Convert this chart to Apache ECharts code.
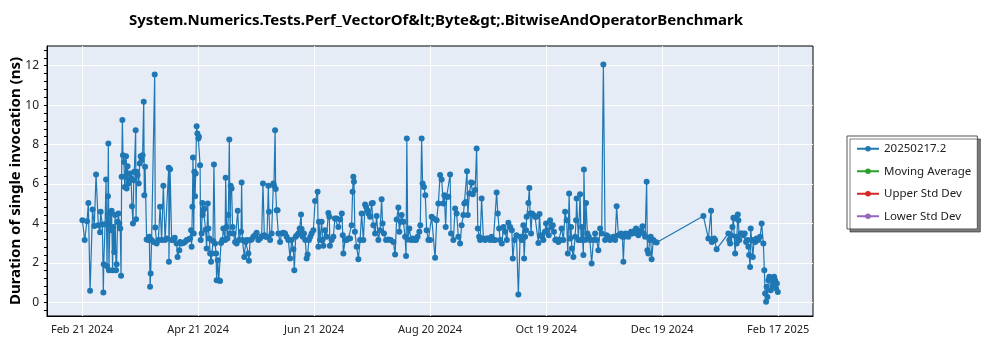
<!DOCTYPE html>
<html><head><meta charset="utf-8">
<script src="https://cdn.jsdelivr.net/npm/echarts@6/dist/echarts.min.js"></script>
<style>html,body{margin:0;padding:0;background:#fff}#c{width:1000px;height:350px}</style>
</head><body><div id="c"></div>
<script>
// x values are days since Feb 21 2024
const chartTitle = 'System.Numerics.Tests.Perf_VectorOf&lt;Byte&gt;.BitwiseAndOperatorBenchmark';
const yName = 'Duration of single invocation (ns)';
const tickDays = [0, 60.333, 120.667, 181, 241.333, 301.667, 362];
const tickLabels = ['Feb 21 2024','Apr 21 2024','Jun 21 2024','Aug 20 2024','Oct 19 2024','Dec 19 2024','Feb 17 2025'];
const yTicks = [0, 2, 4, 6, 8, 10, 12];
const seriesNames = ['20250217.2','Moving Average','Upper Std Dev','Lower Std Dev'];
const seriesColors = ['#1f77b4','#2ca02c','#d62728','#9467bd'];

const runsFebMar = [[0.2,4.16],[1.4,3.15],[2.6,4.11],[3.3,5.04],[4.2,0.58],[5.5,4.70],[6.4,3.87],[7.3,6.48],[8.5,3.91],[9.4,3.55],[9.7,4.59],[10.6,3.94],[11.1,0.49],[11.3,1.93],[12.0,3.96],[12.5,6.23],[13.0,1.83],[13.5,5.38],[13.7,8.05],[14.0,1.62],[14.6,4.50],[15.1,3.65],[15.4,4.64],[15.9,1.62],[16.3,3.82],[16.8,2.55],[17.2,4.42],[17.7,1.62],[18.0,1.93],[18.5,4.08],[18.9,4.50],[19.4,3.99],[19.9,3.74],[20.3,1.34],[20.6,6.36],[21.0,9.24],[21.3,7.46],[21.8,7.12],[22.2,5.85],[22.5,6.36],[22.9,7.41],[23.2,5.77],[23.7,6.90],[24.1,6.02],[24.6,6.19],[25.0,6.53],[25.5,6.28],[26.0,4.87],[26.5,3.99],[26.9,6.19],[27.2,6.62],[27.9,8.73],[28.1,4.21],[28.4,6.62],[28.9,6.45],[29.5,6.02],[30.0,7.04],[30.5,7.41],[31.0,7.21],[31.5,7.46],[32.1,10.17],[32.4,5.43],[32.8,6.87],[33.6,3.18]];
const runsAprMay = [[34.5,3.15],[35.0,3.32],[35.4,0.78],[35.7,1.46],[36.2,3.15],[37.1,3.06],[37.8,11.56],[38.1,3.79],[38.8,2.98],[39.7,3.15],[40.6,4.84],[41.4,3.15],[42.3,5.91],[43.2,3.15],[44.0,3.23],[45.1,6.82],[45.2,2.05],[45.8,6.75],[46.6,3.15],[47.5,3.15],[48.2,3.27],[49.2,2.98],[49.7,2.30],[50.6,2.64],[51.0,3.06],[51.8,2.98],[52.7,3.01],[53.5,3.06],[54.4,3.15],[55.3,3.18],[56.2,3.23],[56.7,3.65],[57.0,2.81],[57.4,4.84],[57.7,7.34],[58.1,3.49],[58.4,6.62],[58.8,5.38],[59.1,6.53],[59.6,8.93],[60.0,8.56],[60.5,8.31],[60.8,8.39],[61.4,6.95],[61.7,3.15],[62.2,3.49],[62.6,5.04],[62.8,4.42],[63.1,4.67],[63.6,4.75],[64.3,3.69],[64.8,2.72],[65.4,5.01],[65.7,3.74],[66.2,3.23],[66.6,2.47],[67.1,2.05],[67.6,2.47],[68.1,3.10],[68.6,6.99],[69.2,2.98],[69.7,2.47],[70.0,1.12],[70.6,2.13],[71.1,1.12],[71.8,1.08],[72.3,3.01],[73.0,3.15],[73.5,3.74],[74.4,3.15],[74.7,6.31],[75.2,3.82],[75.6,3.23],[76.1,4.42],[76.6,8.26],[77.0,3.49],[77.3,5.91],[77.8,5.77],[78.3,3.82],[78.7,3.49],[79.6,3.06],[80.4,2.98]];
const runsMayJul = [[81.0,4.64],[81.6,3.15],[82.7,3.57],[83.0,6.07],[83.4,3.15],[84.4,2.30],[85.1,3.06],[85.6,3.15],[86.5,2.47],[86.8,2.10],[87.4,3.15],[88.2,3.18],[89.1,3.32],[90.0,3.40],[90.8,3.52],[91.7,3.15],[92.6,3.23],[93.4,3.35],[94.1,6.02],[94.8,3.40],[95.5,3.32],[96.2,3.32],[96.9,5.91],[97.2,4.59],[97.8,3.15],[98.6,3.49],[99.5,6.02],[99.8,5.91],[100.4,8.73],[100.7,5.74],[101.2,4.67],[101.7,4.67],[102.1,3.49],[103.0,3.06],[103.8,3.49],[104.7,3.52],[105.6,3.49],[106.4,3.32],[107.3,3.15],[108.2,2.22],[109.0,3.15],[109.9,2.69],[110.4,1.62],[111.1,3.32],[111.8,3.40],[112.5,3.49],[113.2,3.74],[113.9,4.45],[114.2,3.71],[114.8,3.32],[115.4,3.49],[116.1,3.15],[116.8,2.22],[117.3,2.42],[118.0,3.15],[118.7,3.32],[119.4,3.49],[120.3,3.65],[121.2,5.13],[122.5,5.60],[122.9,2.81],[123.2,4.08],[123.8,3.15],[124.6,4.08],[125.1,3.15],[125.5,2.86],[126.3,3.65],[127.2,3.32],[128.1,4.53],[128.6,4.33],[128.9,2.86],[129.8,3.15],[130.7,3.32],[131.5,4.25]];
const runsJulAug = [[132.4,4.25],[133.3,3.82],[134.2,4.20],[135.1,4.50],[135.6,3.40],[135.9,2.47],[136.8,3.15],[137.6,3.15],[138.5,3.23],[139.4,3.23],[140.2,3.91],[140.7,5.60],[141.1,6.36],[141.4,6.11],[141.9,3.57],[142.8,2.81],[143.7,2.18],[144.6,3.15],[145.4,4.50],[146.3,3.15],[147.2,4.96],[147.7,4.84],[148.4,4.67],[148.9,4.50],[149.8,4.33],[150.6,5.01],[151.2,5.04],[151.5,3.91],[152.4,3.49],[153.2,4.37],[154.1,3.15],[155.0,3.65],[155.8,5.23],[156.3,3.99],[157.0,3.49],[158.1,3.15],[159.3,3.18],[160.5,3.15],[161.9,3.06],[162.8,2.42],[163.6,4.20],[164.5,4.81],[165.0,3.57],[165.7,4.08],[166.2,4.42],[167.1,4.08],[168.0,3.32],[168.5,2.35],[168.9,8.31],[169.4,3.18],[170.2,3.74],[171.1,3.15],[171.9,3.23],[172.8,3.15],[173.7,3.15],[174.5,3.32],[175.4,3.57],[175.9,3.91],[176.6,8.31],[177.1,6.02],[177.8,5.85],[178.5,5.43],[179.2,3.65],[180.1,3.15]];
const runsAugSep = [[181.0,3.15],[181.8,4.33],[182.7,4.25],[183.6,2.25],[184.4,4.16],[185.3,5.01],[186.2,6.45],[187.0,6.23],[187.9,5.01],[188.4,5.43],[189.1,3.82],[189.6,5.35],[190.5,5.35],[191.4,6.48],[191.9,3.49],[193.1,3.15],[194.0,4.75],[194.8,4.50],[195.7,3.32],[196.6,2.98],[197.4,3.91],[198.3,4.42],[198.8,5.01],[199.5,5.09],[200.2,6.65],[200.6,4.42],[201.4,5.52],[202.3,6.07],[202.8,6.06],[203.2,5.48],[204.4,5.69],[205.2,7.80],[205.8,3.74],[206.5,3.32],[207.0,3.15],[207.8,5.26],[208.7,3.23],[209.6,3.15],[210.5,3.23],[211.3,3.23],[212.2,3.15],[213.0,3.32],[213.9,3.15],[214.8,3.15],[215.6,5.57],[216.2,4.50],[216.9,3.74],[217.4,3.15],[218.3,2.98],[219.2,3.82],[220.0,3.57],[220.9,3.15],[221.7,4.03],[222.6,3.82],[223.5,3.65],[224.0,2.22],[224.9,3.15],[225.9,3.40],[226.9,0.39],[227.8,3.32],[228.6,3.15],[229.5,3.91],[229.9,2.22],[230.4,3.32]];
const runsOctNov = [[230.9,3.65],[231.2,4.33],[232.1,5.04],[232.6,5.80],[233.0,4.50],[233.5,3.49],[234.0,4.50],[234.7,4.42],[235.6,4.33],[236.4,4.33],[237.3,3.01],[237.9,4.47],[238.5,3.40],[239.2,3.32],[239.9,3.15],[240.7,3.57],[241.3,3.99],[242.0,3.65],[242.7,3.40],[243.4,4.16],[244.1,3.82],[244.8,3.91],[245.4,3.57],[246.1,3.15],[246.8,3.18],[247.7,3.06],[248.6,3.15],[249.4,3.74],[250.3,3.15],[251.2,4.59],[252.0,4.16],[252.6,2.47],[253.3,5.52],[253.8,3.23],[254.3,3.82],[254.7,2.72],[255.5,2.30],[256.4,3.32],[256.9,4.16],[257.2,5.26],[258.1,3.15],[259.0,5.48],[259.5,3.15],[260.0,3.82],[260.7,2.39],[261.0,6.73],[261.6,3.15],[262.1,5.04],[262.8,3.49],[263.5,3.32],[264.1,3.15],[265.0,1.96],[265.9,3.15],[266.8,3.49],[267.6,3.15],[268.5,2.64],[269.4,3.74],[270.2,3.49],[271.1,12.06],[272.0,3.15],[272.8,3.40],[273.7,3.32],[274.6,3.15],[275.4,3.23],[276.3,3.32],[277.2,3.15],[278.0,4.87],[278.9,3.40]];
const runsDecJan = [[279.8,3.40],[280.3,3.49],[281.0,3.32],[281.5,2.05],[282.0,3.32],[282.7,3.49],[283.4,3.40],[284.1,3.32],[284.8,3.49],[285.5,3.57],[286.2,3.49],[286.9,3.57],[287.6,3.65],[288.1,3.74],[288.6,3.49],[289.3,3.40],[290.0,3.57],[290.7,3.65],[291.4,3.86],[292.1,3.49],[292.8,3.32],[293.6,6.11],[294.0,2.64],[294.5,2.47],[295.2,3.15],[295.7,3.32],[296.2,2.18],[297.1,3.15],[298.0,3.06],[298.8,3.03],[323.1,4.37],[325.7,3.23],[327.1,4.64],[327.5,3.06],[328.3,3.15],[328.7,3.23],[329.2,3.15],[330.0,2.69]];
const runsJanFeb = [[336.1,3.49],[336.6,3.15],[337.0,2.98],[337.5,3.40],[338.2,3.82],[338.7,4.28],[339.2,4.25],[339.6,2.47],[340.1,3.32],[340.4,2.98],[341.0,4.45],[341.3,4.16],[341.8,3.15],[342.5,3.49],[343.2,3.49],[343.9,3.40],[344.6,3.49],[345.3,3.06],[346.0,3.15],[346.5,2.81],[346.9,2.39],[347.4,1.79],[347.7,3.74],[348.2,3.15],[348.8,2.30],[349.5,3.15],[350.1,3.06],[350.8,3.23],[351.7,3.15],[352.6,3.32],[353.4,3.99],[354.3,2.98],[354.8,1.62],[355.2,0.44],[355.7,0.02],[356.0,0.78],[356.4,0.27],[356.9,1.12],[357.4,1.29],[358.1,0.61],[358.7,1.20],[359.2,0.86],[359.9,1.29],[360.4,1.12],[360.9,0.69],[361.3,0.95],[361.8,0.52]];

const mainData = [].concat(runsFebMar, runsAprMay, runsMayJul, runsJulAug, runsAugSep, runsOctNov, runsDecJan, runsJanFeb)
  .sort((a, b) => a[0] - b[0]);

const yMinor = [];
for (let i = -1; i <= 32; i++) yMinor.push(+(i * 0.4).toFixed(1));

const FONT = 'Noto Sans';
const chart = echarts.init(document.getElementById('c'), null, { renderer: 'canvas' });
chart.setOption({
  animation: false,
  backgroundColor: '#ffffff',
  title: {
    text: chartTitle, left: 431, top: 8, textAlign: 'center',
    textStyle: { fontFamily: FONT, fontWeight: 'bold', fontSize: 15, color: '#000' }
  },
  grid: {
    left: 47, right: 187, top: 46, bottom: 34, show: true,
    containLabel: false, outerBoundsMode: 'none',
    backgroundColor: '#e5ecf6', borderColor: '#000', borderWidth: 1
  },
  legend: {
    orient: 'vertical', left: 847, top: 136,
    data: seriesNames,
    padding: [6, 6, 6, 9], itemGap: 9, itemWidth: 22, itemHeight: 7,
    backgroundColor: '#fff', borderColor: '#555', borderWidth: 1,
    shadowColor: 'rgba(0,0,0,0.5)', shadowBlur: 0, shadowOffsetX: 3, shadowOffsetY: 3,
    textStyle: { fontFamily: FONT, fontSize: 11.5, color: '#222', lineHeight: 13.5 }
  },
  xAxis: [{
    type: 'value', min: -18.2, max: 380.1,
    axisLine: { show: true, onZero: false, lineStyle: { color: '#000', width: 1 } },
    axisTick: { show: false, customValues: tickDays },
    axisLabel: {
      customValues: tickDays, fontFamily: FONT, fontSize: 11, color: '#222', margin: 8,
      formatter: (v) => { const i = tickDays.findIndex(t => Math.abs(t - v) < 0.01); return i >= 0 ? tickLabels[i] : ''; }
    },
    splitLine: { show: true, lineStyle: { color: '#ffffff', width: 1 } }
  }],
  yAxis: [{
    type: 'value', min: -0.7, max: 13,
    name: yName, nameLocation: 'middle', nameGap: 24, nameMoveOverlap: false,
    nameTextStyle: { fontFamily: FONT, fontWeight: 'bold', fontSize: 15, color: '#000' },
    axisLine: { show: true, onZero: false, lineStyle: { color: '#000', width: 1 } },
    axisTick: { show: false, customValues: yTicks },
    axisLabel: { customValues: yTicks, fontFamily: FONT, fontSize: 12, color: '#222', margin: 8 },
    splitLine: { show: true, lineStyle: { color: '#ffffff', width: 1 } }
  }, {
    type: 'value', min: -0.7, max: 13, position: 'left',
    axisLine: { show: false, onZero: false },
    axisTick: { show: true, customValues: yMinor, length: 3, lineStyle: { color: '#000' } },
    axisLabel: { show: false },
    splitLine: { show: false }
  }],
  series: [{
    name: seriesNames[0], type: 'line', data: mainData,
    xAxisIndex: 0, yAxisIndex: 0,
    color: seriesColors[0], symbol: 'circle', symbolSize: 6, showSymbol: true,
    lineStyle: { width: 1.2, color: seriesColors[0] },
    itemStyle: { color: seriesColors[0] }
  }, {
    name: seriesNames[1], type: 'line', data: [], color: seriesColors[1], symbol: 'circle', symbolSize: 6
  }, {
    name: seriesNames[2], type: 'line', data: [], color: seriesColors[2], symbol: 'circle', symbolSize: 6
  }, {
    name: seriesNames[3], type: 'line', data: [], color: seriesColors[3], symbol: 'circle', symbolSize: 6
  }]
});
</script>
</body></html>
